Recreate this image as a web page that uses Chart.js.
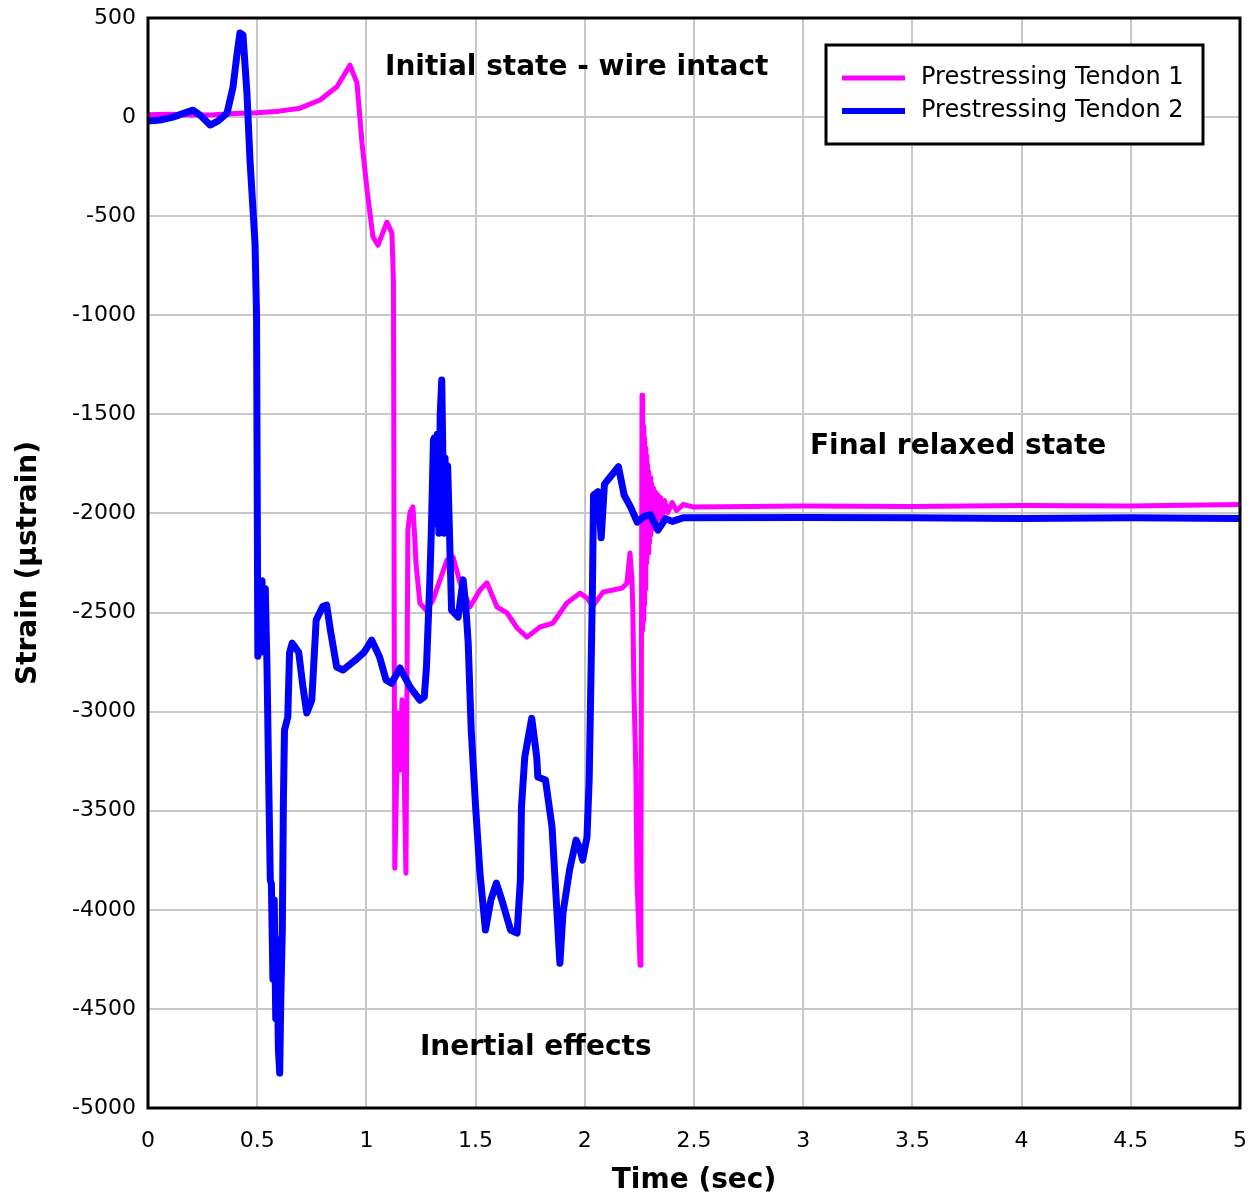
<!DOCTYPE html>
<html>
<head>
<meta charset="utf-8">
<script src="https://cdn.jsdelivr.net/npm/chart.js@4/dist/chart.umd.min.js"></script>
<style>
  body { margin: 0; background: #fff; }
</style>
</head>
<body>
<canvas id="myChart" width="1258" height="1203"></canvas>
<script>
// tick values
const xTicks = [0, 0.5, 1, 1.5, 2, 2.5, 3, 3.5, 4, 4.5, 5];
const yTicks = [-5000, -4500, -4000, -3500, -3000, -2500, -2000, -1500, -1000, -500, 0, 500];

// Prestressing Tendon 1 (magenta) - time (sec) / strain
const t1 = [0, 0.1, 0.2, 0.3, 0.4, 0.5, 0.6, 0.696, 0.788, 0.865, 0.911, 0.925, 0.957, 0.98,
  1.003, 1.03, 1.053, 1.094, 1.117, 1.124, 1.13, 1.145, 1.154, 1.163, 1.172, 1.181, 1.19,
  1.2, 1.213, 1.222, 1.227, 1.245, 1.273, 1.305, 1.337, 1.369, 1.397, 1.429, 1.474, 1.52,
  1.552, 1.598, 1.644, 1.69, 1.735, 1.795, 1.854, 1.918, 1.978, 2.01, 2.037, 2.083, 2.129,
  2.17, 2.193, 2.207, 2.216, 2.22, 2.225, 2.234, 2.239, 2.253, 2.257, 2.262, 2.264, 2.266,
  2.268, 2.27, 2.272, 2.274, 2.276, 2.278, 2.28, 2.282, 2.284, 2.287, 2.29, 2.293, 2.296,
  2.299, 2.302, 2.306, 2.31, 2.314, 2.318, 2.323, 2.328, 2.334, 2.34, 2.347, 2.355, 2.365,
  2.38, 2.4, 2.42, 2.45, 2.5, 3, 3.5, 4, 4.5, 5];
const s1 = [12, 14, 10, 12, 18, 22, 30, 45, 86, 153, 237, 262, 171, -131,
  -368, -605, -646, -530, -585, -837, -3790, -3007, -3295, -2940, -3245, -3815, -2084,
  -1993, -1967, -2134, -2250, -2452, -2488, -2437, -2335, -2235, -2220, -2350, -2472, -2386,
  -2350, -2472, -2502, -2578, -2624, -2573, -2553, -2452, -2402, -2427, -2467, -2397, -2386,
  -2377, -2352, -2200, -2336, -2492, -2891, -3305, -3850, -4280, -3850, -1403, -2590, -1480,
  -2540, -1560, -2460, -1620, -2380, -1670, -2310, -1710, -2250, -1750, -2200, -1790, -2150,
  -1820, -2110, -1850, -2080, -1870, -2060, -1890, -2040, -1905, -2025, -1920, -2010, -1935,
  -1995, -1945, -1985, -1955, -1968, -1962, -1965, -1960, -1962, -1955];

// Prestressing Tendon 2 (blue)
const t2 = [0, 0.055, 0.114, 0.206, 0.238, 0.284, 0.32, 0.362, 0.389, 0.407, 0.421, 0.435,
  0.453, 0.467, 0.49, 0.497, 0.503, 0.51, 0.516, 0.522, 0.53, 0.537, 0.545, 0.552, 0.56,
  0.565, 0.572, 0.578, 0.585, 0.59, 0.597, 0.603, 0.608, 0.615, 0.62, 0.625, 0.64, 0.648,
  0.66, 0.69, 0.71, 0.727, 0.75, 0.77, 0.8, 0.818, 0.835, 0.864, 0.893, 0.95, 0.99, 1.024,
  1.06, 1.09, 1.115, 1.154, 1.2, 1.245, 1.265, 1.275, 1.29, 1.297, 1.307, 1.31, 1.318,
  1.325, 1.332, 1.338, 1.345, 1.35, 1.355, 1.36, 1.367, 1.372, 1.38, 1.39, 1.42, 1.443,
  1.455, 1.466, 1.48, 1.5, 1.52, 1.545, 1.57, 1.595, 1.62, 1.66, 1.69, 1.705, 1.71, 1.725,
  1.757, 1.78, 1.785, 1.82, 1.85, 1.886, 1.9, 1.93, 1.96, 1.975, 1.99, 2.01, 2.02, 2.028,
  2.035, 2.04, 2.06, 2.075, 2.09, 2.12, 2.154, 2.18, 2.21, 2.24, 2.27, 2.3, 2.335, 2.37,
  2.4, 2.45, 3, 3.5, 4, 4.5, 5];
const s2 = [-20, -15, 0, 35, 10, -40, -20, 20, 150, 313, 424, 414,
  121, -217, -636, -1000, -2720, -2350, -2700, -2340, -2650, -2380, -2780, -3300, -3850,
  -3870, -4350, -3950, -4550, -4150, -4700, -4824, -4450, -4100, -3446, -3093, -3028, -2705,
  -2654, -2700, -2880, -3007, -2942, -2538, -2470, -2462, -2588, -2775, -2790, -2740, -2700, -2639,
  -2723, -2840, -2857, -2780, -2876, -2942, -2926, -2775, -2352, -2100, -1630, -1620, -2050,
  -1600, -2100, -1500, -1327, -1700, -2100, -1720, -2000, -1760, -2080, -2488, -2523, -2335,
  -2470, -2650, -3093, -3480, -3815, -4102, -3950, -3865, -3950, -4102, -4117, -3850, -3482, -3230,
  -3033, -3230, -3330, -3345, -3582, -4270, -4017, -3800, -3648, -3683, -3749, -3633, -3345, -2840,
  -2375, -1907, -1890, -2123, -1852, -1811, -1764, -1907, -1968, -2044, -2016, -2006, -2084, -2026,
  -2040, -2022, -2020, -2022, -2025, -2022, -2025];

const notes = [
  { text: 'Initial state - wire intact', t: 1.085, v: 250 },
  { text: 'Final relaxed state', t: 3.031, v: -1665 },
  { text: 'Inertial effects', t: 1.245, v: -4695 }
];

function pts(t, s) {
  return t.map((x, i) => ({ x: x, y: s[i] }));
}

const frameAndNotes = {
  id: 'frameAndNotes',
  afterDatasetsDraw(chart) {
    const ctx = chart.ctx;
    const a = chart.chartArea;
    const xs = chart.scales.x, ys = chart.scales.y;
    ctx.save();
    // plot border
    ctx.strokeStyle = '#000';
    ctx.lineWidth = 3;
    ctx.strokeRect(a.left, a.top, a.right - a.left, a.bottom - a.top);
    // annotations
    ctx.fillStyle = '#000';
    ctx.font = 'bold 28px "DejaVu Sans"';
    ctx.textAlign = 'left';
    ctx.textBaseline = 'middle';
    notes.forEach(n => ctx.fillText(n.text, xs.getPixelForValue(n.t), ys.getPixelForValue(n.v)));
    // legend box
    ctx.fillStyle = '#fff';
    ctx.fillRect(826, 45, 377, 99);
    ctx.lineWidth = 3;
    ctx.strokeStyle = '#000';
    ctx.strokeRect(826, 45, 377, 99);
    ctx.font = '24px "DejaVu Sans"';
    chart.data.datasets.forEach((ds, i) => {
      const y = 78 + i * 33;
      ctx.strokeStyle = ds.borderColor;
      ctx.lineWidth = 5 + i;
      ctx.beginPath();
      ctx.moveTo(842, y);
      ctx.lineTo(905, y);
      ctx.stroke();
      ctx.fillStyle = '#000';
      ctx.fillText(ds.label, 921, y);
    });
    ctx.restore();
  }
};

const ctx = document.getElementById('myChart').getContext('2d');
new Chart(ctx, {
  type: 'line',
  data: {
    datasets: [
      {
        label: 'Prestressing Tendon 1',
        data: pts(t1, s1),
        borderColor: '#ff00ff',
        borderWidth: 5,
        order: 1
      },
      {
        label: 'Prestressing Tendon 2',
        data: pts(t2, s2),
        borderColor: '#0000ff',
        borderWidth: 7,
        order: 0
      }
    ]
  },
  options: {
    responsive: false,
    animation: false,
    devicePixelRatio: 1,
    layout: { padding: { top: 18, right: 18, left: 0, bottom: 0 } },
    elements: {
      point: { radius: 0 },
      line: { tension: 0, borderJoinStyle: 'round', borderCapStyle: 'round' }
    },
    plugins: {
      legend: { display: false },
      tooltip: { enabled: false }
    },
    scales: {
      x: {
        type: 'linear',
        min: 0,
        max: 5,
        afterBuildTicks: s => { s.ticks = xTicks.map(v => ({ value: v })); },
        afterFit: s => { s.height = 95; s.paddingLeft = 0; s.paddingRight = 0; },
        grid: { color: '#c8c8c8', lineWidth: 2, drawTicks: false },
        border: { display: false },
        ticks: {
          padding: 20,
          color: '#000',
          font: { family: 'DejaVu Sans', size: 22 },
          maxRotation: 0,
          callback: v => String(v)
        },
        title: {
          display: true,
          text: 'Time (sec)',
          color: '#000',
          font: { family: 'DejaVu Sans', size: 28, weight: 'bold' },
          padding: { top: 0, bottom: 5 }
        }
      },
      y: {
        min: -5000,
        max: 500,
        afterBuildTicks: s => { s.ticks = yTicks.map(v => ({ value: v })); },
        afterFit: s => { s.width = 148; s.paddingTop = 0; s.paddingBottom = 0; },
        grid: { color: '#c8c8c8', lineWidth: 2, drawTicks: false },
        border: { display: false },
        ticks: {
          padding: 12,
          color: '#000',
          font: { family: 'DejaVu Sans', size: 22 },
          callback: v => String(v)
        },
        title: {
          display: true,
          text: 'Strain (µstrain)',
          color: '#000',
          font: { family: 'DejaVu Sans', size: 28, weight: 'bold' },
          padding: { top: 12, bottom: 0 }
        }
      }
    }
  },
  plugins: [frameAndNotes]
});
</script>
</body>
</html>
